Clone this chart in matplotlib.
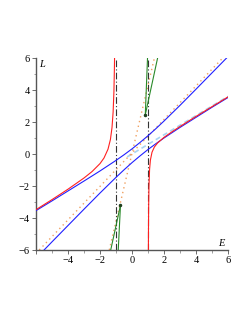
import numpy as np
import matplotlib.pyplot as plt

# curve samples (E, L)
red_left_E = [-6, -5, -4, -3, -2.5, -2, -1.75, -1.5, -1.35, -1.25, -1.18, -1.13, -1.1, -1.09]
red_left_L = [-3.48, -2.85, -2.2, -1.5, -1.1, -0.6, -0.25, 0.3, 0.9, 1.65, 2.62, 3.9, 5.34, 6.0]
red_right_E = [1.024, 1.03, 1.04, 1.06, 1.1, 1.15, 1.25, 1.4, 1.6, 2, 2.5, 3, 4, 5, 6]
red_right_L = [-6.05, -4.72, -3.38, -2.03, -0.94, -0.38, 0.11, 0.44, 0.69, 1.04, 1.39, 1.72, 2.35, 2.96, 3.57]

blue_E = [-6, -5, -4, -3, -2, -1, -0.5, 0, 0.5, 1, 1.5, 2, 3, 4, 5, 6]
blue_up_L = [-3.54, -2.93, -2.31, -1.69, -1.06, -0.40, -0.05, 0.32, 0.72, 1.14, 1.59, 2.06, 3.04, 4.05, 5.07, 6.09]
blue_lo_L = [-6.52, -5.49, -4.47, -3.45, -2.44, -1.46, -0.99, -0.54, -0.12, 0.28, 0.65, 1.00, 1.66, 2.29, 2.92, 3.53]

orange1_E, orange1_L = [-5.8, 5.67], [-6, 6]
orange2_E, orange2_L = [-1.42, 1.4], [-6, 6]
lightblue_E, lightblue_L = [-0.3, 6], [-0.18, 3.6]
asym_E = [-1.0, 1.0]

green_top = (0.83, 2.45)
green_top_ends = [(0.97, 6), (1.6, 6)]
green_bot = (-0.72, -3.2)
green_bot_ends = [(-0.86, -6), (-1.33, -6)]

plt.rcParams['font.family'] = ['Liberation Serif', 'DejaVu Serif']
fig = plt.figure(figsize=(2.49, 3.23), dpi=100)
ax = fig.add_axes([36/249, 73/323, 192/249, 192/323])

lw = 0.8
ax.plot(lightblue_E, lightblue_L, color='#a8d4f4', lw=1.2, ls=(0, (3, 2)), zorder=1)
ax.plot(orange1_E, orange1_L, color='#f0a060', lw=1.0, ls=(0, (1, 2.5)), zorder=1)
ax.plot(orange2_E, orange2_L, color='#f0a060', lw=1.0, ls=(0, (1, 2.5)), zorder=1)
for e in asym_E:
    ax.axvline(e, color='#333333', lw=lw, ls=(0, (6, 2, 1, 2)), zorder=2)
ax.plot(blue_E, blue_up_L, color='#2020ff', lw=lw, zorder=3)
ax.plot(blue_E, blue_lo_L, color='#2020ff', lw=lw, zorder=3)
ax.plot(red_left_E, red_left_L, color='#ff2020', lw=lw, zorder=3)
ax.plot(red_right_E, red_right_L, color='#ff2020', lw=lw, zorder=3)

for p, ends in [(green_top, green_top_ends), (green_bot, green_bot_ends)]:
    for q in ends:
        ax.plot([p[0], q[0]], [p[1], q[1]], color='#2a8a2a', lw=lw, zorder=4)
    ax.plot(*p, 'o', color='#204020', ms=1.5, zorder=5)

ax.set_xlim(-6, 6)
ax.set_ylim(-6, 6)
for s in ['top', 'right']:
    ax.spines[s].set_visible(False)
for s in ['left', 'bottom']:
    ax.spines[s].set_color('#555555')
    ax.spines[s].set_linewidth(1.0)

ax.set_xticks([-6, -4, -2, 0, 2, 4, 6])
ax.set_xticklabels(['', '−4', '−2', '0', '2', '4', '6'])
ax.set_yticks([-6, -4, -2, 0, 2, 4, 6])
ax.set_yticklabels(['−6', '−4', '−2', '0', '2', '4', '6'])
ax.set_xticks([-5, -3, -1, 1, 3, 5], minor=True)
ax.set_yticks([-5, -3, -1, 1, 3, 5], minor=True)
ax.tick_params(which='major', length=3, width=0.6, color='#555555', labelsize=7.5, pad=1.5)
ax.tick_params(which='minor', length=1.8, width=0.5, color='#777777')

ax.text(0.015, 0.99, 'L', transform=ax.transAxes, fontsize=7.5, style='italic', va='top')
ax.text(0.965, 0.008, 'E', transform=ax.transAxes, fontsize=7.5, style='italic', ha='center', va='bottom')

fig.savefig('out.png', dpi=100)
